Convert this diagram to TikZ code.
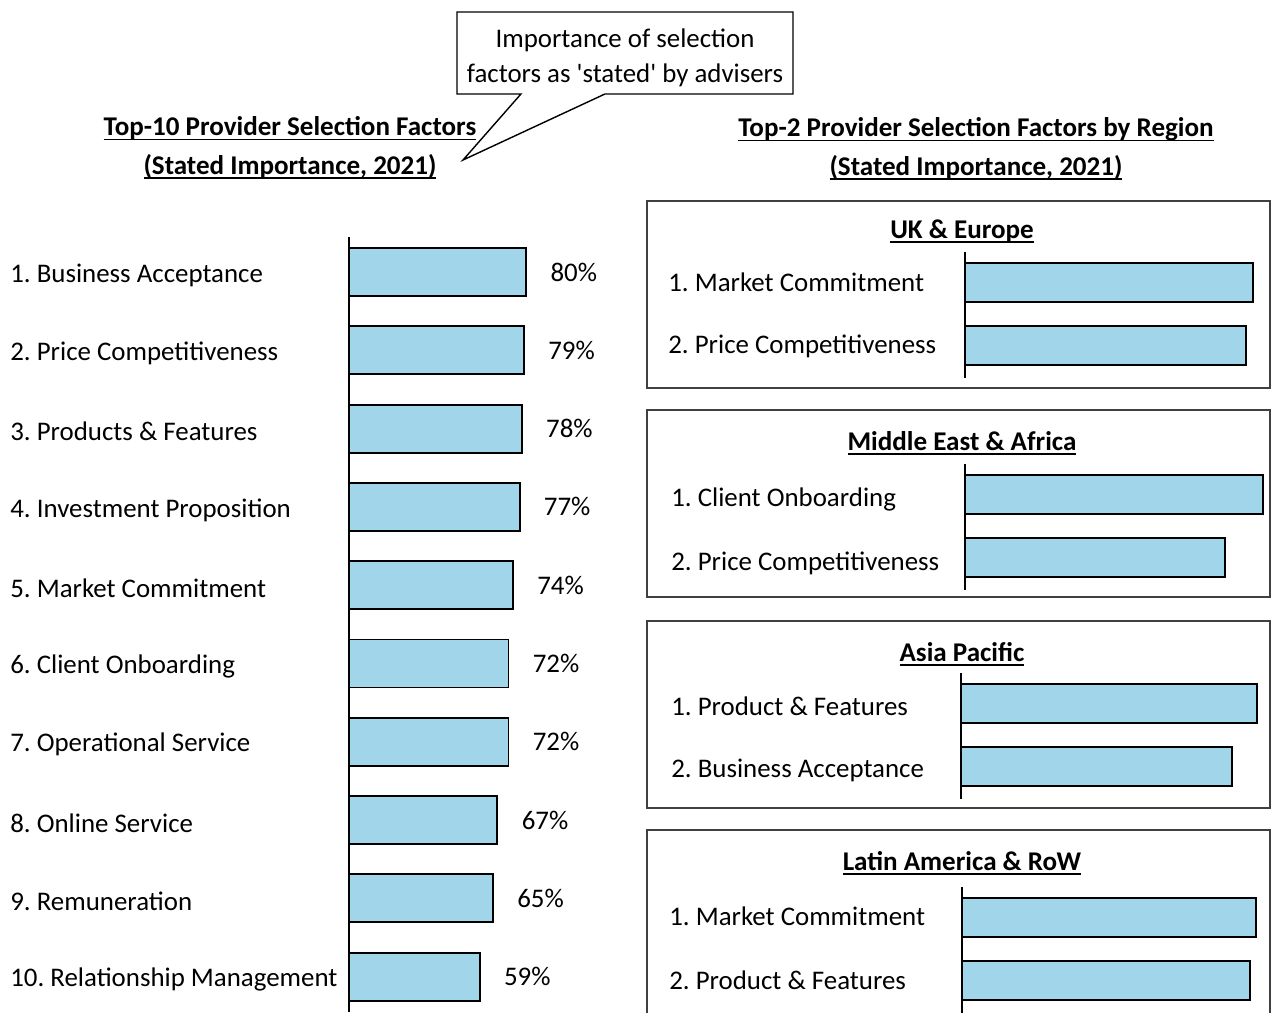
\documentclass[tikz,border=0pt]{standalone}
\usepackage{fontspec}
\setmainfont{Carlito}
\usepackage{tikz}
\usetikzlibrary{shapes,shapes.callouts,positioning}
\definecolor{barblue}{RGB}{160,213,234}
\newsavebox{\undlbox}
\newcommand{\undl}[1]{\sbox{\undlbox}{#1}\rlap{\rule[-2.6pt]{\wd\undlbox}{1pt}}\usebox{\undlbox}}
\frenchspacing

\begin{document}
\begin{tikzpicture}[
    x=0.02cm, y=-0.02cm,
    every node/.style={font=\fontsize{15.3}{20}\selectfont},
    factor/.style={anchor=west, inner sep=0pt},
    pct/.style={anchor=west, inner sep=0pt},
    heading/.style={font=\fontsize{15.4}{22}\selectfont\bfseries, align=center, inner sep=0pt},
    bar/.style={draw, line width=1.1pt, fill=barblue},
    axis/.style={line width=0.8pt},
    panel/.style={draw=black!75, line width=0.8pt},
    note/.style={rectangle callout, draw, line width=0.8pt, align=center, minimum width=6.72cm, minimum height=1.64cm, callout pointer width=1.68cm}
]
\clip (0,0) rectangle (1271,1012);

% Callout
\coordinate (tip) at (463,160);
\node[note, callout absolute pointer={(tip)}] (note) at (625,53) {\rule{0pt}{16pt}Importance of selection\\factors as \textquotesingle stated\textquotesingle{} by advisers};

% Headings
\node[heading] (lefttitle) at (290,148) {\undl{Top-10 Provider Selection Factors}\\\undl{(Stated Importance, 2021)}};
\node[heading] (righttitle) at (976,149) {\undl{Top-2 Provider Selection Factors by Region}\\\undl{(Stated Importance, 2021)}};

% Top-10 bars
\draw[axis] (349,237) -- (349,1012);
\foreach \i/\name/\val in {1/Business Acceptance/80, 2/Price Competitiveness/79, 3/Products \& Features/78,
    4/Investment Proposition/77, 5/Market Commitment/74, 6/Client Onboarding/72, 7/Operational Service/72,
    8/Online Service/67, 9/Remuneration/65, 10/Relationship Management/59} {
  \pgfmathsetmacro{\yc}{272+78.3*(\i-1)}
  \pgfmathsetmacro{\len}{2.215*\val}
  \draw[bar] (349,\yc-24) rectangle ++(\len,48);
  \node[factor] (f\i) at (10,\yc+3) {\i. \name};
  \node[pct] (p\i) at (349+\len+24,\yc) {\val\%};
}

% Regions
\foreach \n/\py/\ax/\lx/\tof/\bo/\lo/\rname/\fa/\fb/\ra/\rb in {
    uk/201/965/668/30/62/81/UK \& Europe/Market Commitment/Price Competitiveness/1253/1246,
    mea/410/965/671/33/65/89/Middle East \& Africa/Client Onboarding/Price Competitiveness/1263/1225,
    apac/621/961/671/33/63/85/Asia Pacific/Product \& Features/Business Acceptance/1257/1232,
    latam/830/962/669/33/68/86/Latin America \& RoW/Market Commitment/Product \& Features/1256/1250} {
  \draw[panel] (647,\py) rectangle (1270,\py+187);
  \node[heading] (\n-t) at (962,\py+\tof) {\undl{\rname}};
  \draw[axis] (\ax,\py+\bo-11) -- (\ax,\py+\bo+115);
  \draw[bar] (\ax,\py+\bo) rectangle (\ra,\py+\bo+39);
  \draw[bar] (\ax,\py+\bo+63) rectangle (\rb,\py+\bo+102);
  \node[factor] (\n-1) at (\lx,\py+\lo) {1. \fa};
  \node[factor] (\n-2) at (\lx,\py+\lo+64) {2. \fb};
}

\end{tikzpicture}
\end{document}
